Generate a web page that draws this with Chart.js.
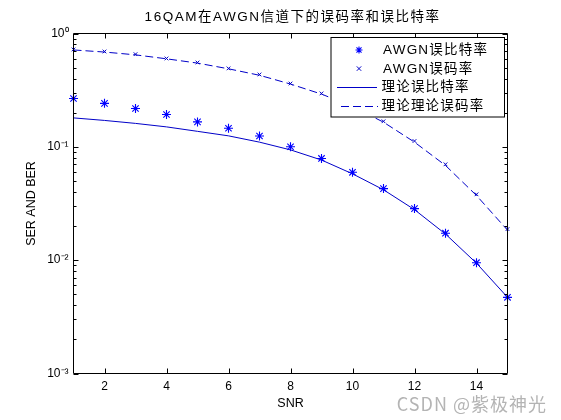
<!DOCTYPE html>
<html>
<head>
<meta charset="utf-8">
<script src="https://cdn.jsdelivr.net/npm/chart.js@4.4.0/dist/chart.umd.min.js"></script>
<style>
html,body{margin:0;padding:0;background:#fff;}
#wrap{width:561px;height:420px;}
</style>
</head>
<body>
<div id="wrap"><canvas id="c" width="561" height="420"></canvas></div>
<script>
// ---- data ----
const snr = [1,2,3,4,5,6,7,8,9,10,11,12,13,14,15];
const simBER = [0.267,0.242,0.218,0.193,0.166,0.146,0.1245,0.1002,0.0790,0.0596,0.0428,0.0285,0.0173,0.0095,0.0047];
const simSER = [0.723,0.694,0.657,0.602,0.555,0.492,0.435,0.362,0.296,0.232,0.168,0.1125,0.0701,0.0381,0.0188];
const theoBER = [0.180,0.171,0.161,0.150,0.137,0.125,0.110,0.094,0.0765,0.0578,0.0418,0.0279,0.0170,0.0094,0.0047];
const theoSER = [0.716,0.686,0.648,0.598,0.548,0.488,0.428,0.358,0.292,0.227,0.165,0.110,0.0685,0.0372,0.0184];

const xTicks = [2,4,6,8,10,12,14];
const yTicks = [1,0.1,0.01,0.001];
const yTickLabels = ['10\u2070','10\u207B\u00B9','10\u207B\u00B2','10\u207B\u00B3'];
const seriesNames = ['AWGN误比特率','AWGN误码率','理论误比特率','理论理论误码率'];
const titleText = '16QAM在AWGN信道下的误码率和误比特率';
const xLabel = 'SNR';
const yLabel = 'SER AND BER';
const watermark = 'CSDN @紫极神光';

const FONT = "'Liberation Sans','Noto Sans CJK SC',Arial,sans-serif";
const BLUE = '#0000ff';
const LINEBLUE = '#0000c8';

function pts(ys){ return snr.map((x,i)=>({x:x, y:ys[i]})); }

// axes box, inward ticks, title, legend, watermark
const deco = {
  id:'deco',
  afterDatasetsDraw(chart){
    const {ctx, chartArea:a, scales:{x,y}} = chart;
    ctx.save();
    ctx.strokeStyle = '#000';
    ctx.lineWidth = 1;
    ctx.beginPath();
    ctx.rect(a.left, a.top, a.right-a.left, a.bottom-a.top);
    xTicks.forEach(v=>{
      const px = Math.round(x.getPixelForValue(v)) + 0.5;
      ctx.moveTo(px, a.bottom); ctx.lineTo(px, a.bottom-5);
      ctx.moveTo(px, a.top); ctx.lineTo(px, a.top+5);
    });
    const decades = yTicks.slice(1);
    yTicks.forEach(v=>{
      const py = Math.round(y.getPixelForValue(v)) + 0.5;
      ctx.moveTo(a.left, py); ctx.lineTo(a.left+5, py);
      ctx.moveTo(a.right, py); ctx.lineTo(a.right-5, py);
    });
    decades.forEach(d=>{
      for(let k=2;k<=9;k++){
        const py = Math.round(y.getPixelForValue(k*d)) + 0.5;
        ctx.moveTo(a.left, py); ctx.lineTo(a.left+3, py);
        ctx.moveTo(a.right, py); ctx.lineTo(a.right-3, py);
      }
    });
    ctx.stroke();
    ctx.restore();
  },
  afterDraw(chart){
    const {ctx, chartArea:a} = chart;
    ctx.save();
    // title
    ctx.fillStyle = '#000';
    ctx.font = '13.5px ' + FONT;
    ctx.textAlign = 'center';
    ctx.textBaseline = 'middle';
    ctx.letterSpacing = '1.5px';
    ctx.fillText(titleText, (a.left+a.right)/2 + 2, 17);

    // legend
    const L = a.right - 176.5, T = a.top + 4, W = 173.5, H = 79.5;
    ctx.fillStyle = '#fff';
    ctx.fillRect(L, T, W, H);
    ctx.strokeStyle = '#000';
    ctx.lineWidth = 1;
    ctx.strokeRect(L, T, W, H);
    const rowY = i => T + 12.5 + i*18.6;
    const mx = L + 28;
    // star
    ctx.strokeStyle = BLUE; ctx.lineWidth = 1.1;
    let cy = rowY(0), r = 3.5;
    ctx.beginPath();
    ctx.moveTo(mx-r, cy); ctx.lineTo(mx+r, cy);
    ctx.moveTo(mx, cy-r); ctx.lineTo(mx, cy+r);
    const rd = r*0.72;
    ctx.moveTo(mx-rd, cy-rd); ctx.lineTo(mx+rd, cy+rd);
    ctx.moveTo(mx-rd, cy+rd); ctx.lineTo(mx+rd, cy-rd);
    ctx.stroke();
    // x
    ctx.strokeStyle = LINEBLUE; ctx.lineWidth = 1;
    cy = rowY(1); r = 2.2;
    ctx.beginPath();
    ctx.moveTo(mx-r, cy-r); ctx.lineTo(mx+r, cy+r);
    ctx.moveTo(mx-r, cy+r); ctx.lineTo(mx+r, cy-r);
    ctx.stroke();
    // solid
    cy = Math.round(rowY(2)) + 0.5;
    ctx.beginPath(); ctx.moveTo(L+6, cy); ctx.lineTo(L+46, cy); ctx.stroke();
    // dashed
    cy = Math.round(rowY(3)) + 0.5;
    ctx.setLineDash([8,4]);
    ctx.beginPath(); ctx.moveTo(L+10, cy); ctx.lineTo(L+47, cy); ctx.stroke();
    ctx.setLineDash([]);
    // texts
    ctx.fillStyle = '#000';
    ctx.font = '13.5px ' + FONT;
    ctx.textAlign = 'left';
    ctx.textBaseline = 'middle';
    ctx.letterSpacing = '1.2px';
    seriesNames.forEach((s,i)=>{
      ctx.fillText(s, L + (i<2 ? 52 : 50.5), rowY(i) + 0.5);
    });

    // watermark
    ctx.letterSpacing = '1px';
    ctx.font = "18px 'Noto Sans CJK SC','Liberation Sans',sans-serif";
    ctx.textAlign = 'right';
    ctx.fillStyle = '#b4b4b4';
    ctx.fillText(watermark, 547, 404);
    ctx.restore();
  }
};

const chart = new Chart(document.getElementById('c'), {
  type:'line',
  data:{
    datasets:[
      {label:seriesNames[0], data:pts(simBER), showLine:false, pointStyle:'star',
       pointRadius:4.5, pointBorderWidth:1.1, borderColor:BLUE, backgroundColor:BLUE, clip:false},
      {label:seriesNames[1], data:pts(simSER), showLine:false, pointStyle:'crossRot',
       pointRadius:2.6, pointBorderWidth:1, borderColor:LINEBLUE, backgroundColor:LINEBLUE, clip:false},
      {label:seriesNames[2], data:pts(theoBER), borderColor:LINEBLUE, borderWidth:1,
       pointRadius:0, tension:0, fill:false},
      {label:seriesNames[3], data:pts(theoSER), borderColor:LINEBLUE, borderWidth:1,
       borderDash:[8,4], pointRadius:0, tension:0, fill:false}
    ]
  },
  options:{
    responsive:false,
    animation:false,
    events:[],
    layout:{padding:{left:0, right:53.5, top:33.5, bottom:0}},
    plugins:{legend:{display:false}, title:{display:false}, tooltip:{enabled:false}},
    scales:{
      x:{
        type:'linear', min:1, max:15,
        grid:{display:false, drawTicks:false}, border:{display:false},
        afterBuildTicks(s){ s.ticks = xTicks.map(v=>({value:v})); },
        afterFit(s){ s.height = 46.5; },
        ticks:{color:'#000', padding:6, font:{family:FONT, size:12}, maxRotation:0, autoSkip:false},
        title:{display:true, text:xLabel, color:'#000', font:{family:FONT, size:12.5}, padding:{top:0, bottom:8.5}}
      },
      y:{
        type:'logarithmic', min:0.001, max:1,
        grid:{display:false, drawTicks:false}, border:{display:false},
        afterBuildTicks(s){ s.ticks = yTicks.map(v=>({value:v, major:true})); },
        afterFit(s){ s.width = 73.5; },
        ticks:{color:'#000', padding:5, font:{family:FONT, size:12}, autoSkip:false,
          callback:(v)=>{ const i = yTicks.findIndex(t=>Math.abs(t-v)<1e-9); return i>=0 ? yTickLabels[i] : ''; }},
        title:{display:true, text:yLabel, color:'#000', font:{family:FONT, size:12.5}, padding:{top:24, bottom:0}}
      }
    }
  },
  plugins:[deco]
});
</script>
</body>
</html>
